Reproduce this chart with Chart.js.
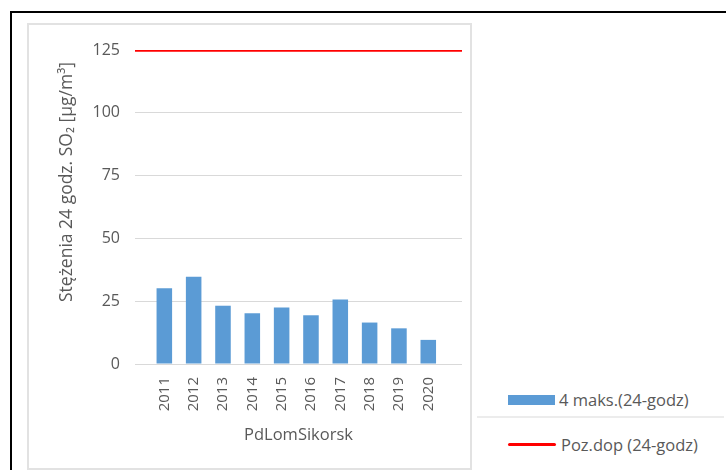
<!DOCTYPE html>
<html>
<head>
<meta charset="utf-8">
<script src="https://cdn.jsdelivr.net/npm/chart.js@4"></script>
<style>
  html, body { margin: 0; padding: 0; background: #fff; }
  body { width: 726px; height: 470px; position: relative; overflow: hidden; font-family: "Open Sans", sans-serif; }
  .outer { position: absolute; left: 10px; top: 11px; width: 730px; height: 470px; border-left: 2px solid #000; border-top: 2px solid #000; }
  .box { position: absolute; left: 27px; top: 23px; width: 441px; height: 443px; border: 2px solid #e2e2e2; }
  .divider { position: absolute; left: 477px; top: 416px; width: 247px; height: 2px; background: #ececec; }
  .leg { position: absolute; left: 508px; font-size: 16.5px; color: #595959; white-space: nowrap; }
  .leg span { display: inline-block; vertical-align: middle; }
  canvas { position: absolute; left: 0; top: 0; }
</style>
</head>
<body>
<div class="outer"></div>
<div class="box"></div>
<div class="divider"></div>
<div class="leg" style="top:386px"><span style="width:47px;height:10px;background:#5b9bd5;margin-right:4px"></span><span>4 maks.(24-godz)</span></div>
<div class="leg" style="top:431px"><span style="width:48px;height:3px;background:#ff0000;border-radius:2px;margin-right:5px"></span><span>Poz.dop (24-godz)</span></div>
<canvas id="wykres" width="726" height="470"></canvas>
<script>
// dane
const lata = ['2011', '2012', '2013', '2014', '2015', '2016', '2017', '2018', '2019', '2020'];
const maks4 = [30.2, 34.7, 23.2, 20.2, 22.5, 19.4, 25.7, 16.5, 14.2, 9.6];
const pozDop = 125;
const osY = [0, 25, 50, 75, 100, 125];

const xMin = 2010, xMax = 2021.15;
const szary = '#595959';

// tytul osi Y rysowany recznie (przesuniety jak w oryginale)
const tytulY = {
    id: 'tytulY',
    afterDraw(chart) {
        const ctx = chart.ctx;
        ctx.save();
        ctx.translate(67, 182);
        ctx.rotate(-Math.PI / 2);
        ctx.font = '17.5px "Open Sans", sans-serif';
        ctx.fillStyle = szary;
        ctx.textAlign = 'center';
        ctx.textBaseline = 'middle';
        ctx.fillText('Stężenia 24 godz. SO₂ [µg/m³]', 0, 0);
        ctx.restore();
    }
};

const ctx = document.getElementById('wykres').getContext('2d');
new Chart(ctx, {
    type: 'bar',
    data: {
        datasets: [{
            label: '4 maks.(24-godz)',
            data: lata.map((r, i) => ({ x: Number(r), y: maks4[i] })),
            backgroundColor: '#5b9bd5',
            barPercentage: 0.53,
            categoryPercentage: 1,
            order: 2
        }, {
            type: 'line',
            label: 'Poz.dop (24-godz)',
            data: [{ x: xMin, y: pozDop }, { x: xMax, y: pozDop }],
            borderColor: '#ff0000',
            borderWidth: 3.5,
            pointRadius: 0,
            order: 1
        }]
    },
    options: {
        responsive: false,
        animation: false,
        layout: { padding: { top: 50, right: 264, left: 0, bottom: 0 } },
        plugins: { legend: { display: false }, tooltip: { enabled: false } },
        scales: {
            x: {
                type: 'linear',
                min: xMin,
                max: xMax,
                offset: false,
                grid: { display: false, offset: false },
                border: { display: false },
                afterBuildTicks: s => { s.ticks = lata.map(r => ({ value: Number(r) })); },
                afterFit: s => { s.height = 106; },
                ticks: {
                    callback: v => String(v),
                    minRotation: 90,
                    maxRotation: 90,
                    padding: 5,
                    color: szary,
                    font: { family: '"Open Sans", sans-serif', size: 15 }
                },
                title: {
                    display: true,
                    text: 'PdLomSikorsk',
                    color: szary,
                    font: { family: '"Open Sans", sans-serif', size: 16.5 },
                    padding: { top: 0, bottom: 25 }
                }
            },
            y: {
                min: 0,
                max: 125,
                afterBuildTicks: s => { s.ticks = osY.map(v => ({ value: v })); },
                afterFit: s => { s.width = 135; },
                grid: { color: '#d9d9d9', lineWidth: 1, drawTicks: false },
                border: { display: false },
                ticks: {
                    padding: 15,
                    color: szary,
                    font: { family: '"Open Sans", sans-serif', size: 16 }
                }
            }
        }
    },
    plugins: [tytulY]
});
</script>
</body>
</html>
